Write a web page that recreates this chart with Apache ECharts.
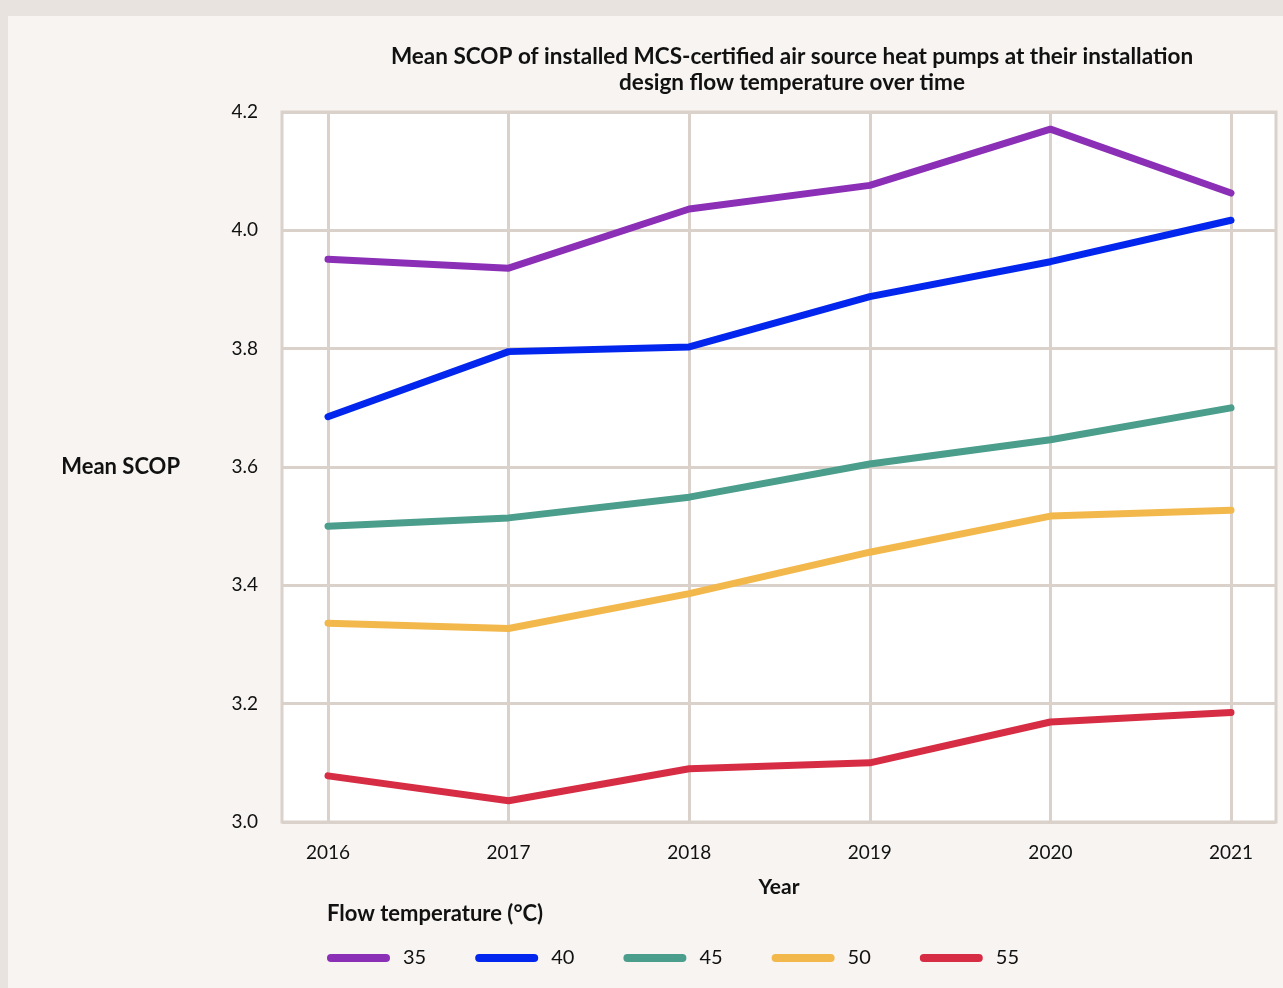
<!DOCTYPE html>
<html>
<head>
<meta charset="utf-8">
<script src="https://cdn.jsdelivr.net/npm/echarts@6/dist/echarts.min.js"></script>
<style>
  html, body { margin: 0; padding: 0; background: #e8e3de; }
  #scop_chart { width: 1283px; height: 988px; }
</style>
</head>
<body>
<div id="scop_chart"></div>
<script>
  // data
  let years = ['2016', '2017', '2018', '2019', '2020', '2021']
  let flowTemps = ['35', '40', '45', '50', '55']
  let scop35 = [3.951, 3.936, 4.036, 4.076, 4.171, 4.063]
  let scop40 = [3.685, 3.795, 3.803, 3.888, 3.947, 4.017]
  let scop45 = [3.500, 3.514, 3.549, 3.605, 3.646, 3.700]
  let scop50 = [3.336, 3.327, 3.386, 3.456, 3.517, 3.527]
  let scop55 = [3.078, 3.036, 3.090, 3.100, 3.169, 3.185]
  let yTicks = [3.0, 3.2, 3.4, 3.6, 3.8, 4.0, 4.2]

  let seriesData = [scop35, scop40, scop45, scop50, scop55]
  let colors = ['#8b2fb6', '#0326ee', '#4a9e8b', '#f3b84c', '#d72d44']
  let fontFamily = 'Lato, "Open Sans", sans-serif'
  let gridColor = '#d9d1ca'

  let myChart = echarts.init(document.getElementById('scop_chart'))

  let option = {
    backgroundColor: '#e8e3de',
    textStyle: { fontFamily: fontFamily, color: '#111' },
    graphic: [{
      type: 'rect',
      z: -10,
      shape: { x: 8, y: 16, width: 1275, height: 972 },
      style: { fill: '#f7f4f2' }
    }, {
      type: 'text',
      left: 327,
      top: 903,
      style: {
        text: 'Flow temperature (°C)',
        fontFamily: fontFamily,
        fontSize: 22,
        fontWeight: 'bold',
        fill: '#111'
      }
    }],
    title: {
      text: 'Mean SCOP of installed MCS-certified air source heat pumps at their installation\ndesign flow temperature over time',
      left: 787,
      top: 39,
      textAlign: 'center',
      textStyle: {
        fontFamily: fontFamily,
        fontSize: 22.5,
        fontWeight: 'bold',
        color: '#111',
        lineHeight: 26
      }
    },
    legend: {
      data: flowTemps,
      left: 327,
      top: 948,
      padding: 0,
      icon: 'path://M4,0 H59 A4,4 0 0 1 59,8 H4 A4,4 0 0 1 4,0 Z',
      itemWidth: 63,
      itemHeight: 8,
      itemGap: 49,
      textStyle: { fontSize: 20, color: '#111', fontFamily: fontFamily, padding: [0, 0, 0, 8] }
    },
    grid: [{
      show: true,
      left: 282,
      top: 112,
      width: 994,
      height: 710,
      backgroundColor: '#ffffff',
      borderColor: gridColor,
      borderWidth: 3,
      containLabel: false
    }, {
      show: false,
      left: 328,
      top: 112,
      width: 903,
      height: 710,
      containLabel: false
    }],
    xAxis: [{
      gridIndex: 0,
      type: 'value',
      min: 0,
      max: 1,
      show: true,
      axisLine: { show: false },
      axisTick: { show: false },
      axisLabel: { show: false },
      splitLine: { show: false },
      name: 'Year',
      nameLocation: 'middle',
      nameGap: 55,
      nameTextStyle: { fontSize: 21, fontWeight: 'bold', color: '#111' }
    }, {
      gridIndex: 1,
      type: 'category',
      boundaryGap: false,
      data: years,
      axisLine: { show: false },
      axisTick: { show: false },
      axisLabel: { color: '#111', fontSize: 19, margin: 21 },
      splitLine: { show: true, lineStyle: { color: gridColor, width: 3 } }
    }],
    yAxis: [{
      gridIndex: 0,
      type: 'value',
      min: yTicks[0],
      max: yTicks[yTicks.length - 1],
      interval: 0.2,
      axisLine: { show: false },
      axisTick: { show: false },
      axisLabel: {
        color: '#111',
        fontSize: 19,
        margin: 24,
        formatter: function (v) { return v.toFixed(1) }
      },
      splitLine: { show: true, lineStyle: { color: gridColor, width: 3 } },
      name: 'Mean SCOP',
      nameLocation: 'middle',
      nameRotate: 0,
      nameGap: 102,
      nameTextStyle: { fontSize: 22, fontWeight: 'bold', color: '#111', align: 'right' }
    }, {
      gridIndex: 1,
      type: 'value',
      min: yTicks[0],
      max: yTicks[yTicks.length - 1],
      interval: 0.2,
      show: false,
      splitLine: { show: false }
    }],
    series: flowTemps.map(function (name, i) {
      return {
        name: name,
        type: 'line',
        xAxisIndex: 1,
        yAxisIndex: 1,
        data: seriesData[i],
        showSymbol: false,
        symbol: 'none',
        color: colors[i],
        lineStyle: { width: 7, color: colors[i], cap: 'round', join: 'round' },
        animation: false
      }
    })
  }

  myChart.setOption(option)
</script>
</body>
</html>
